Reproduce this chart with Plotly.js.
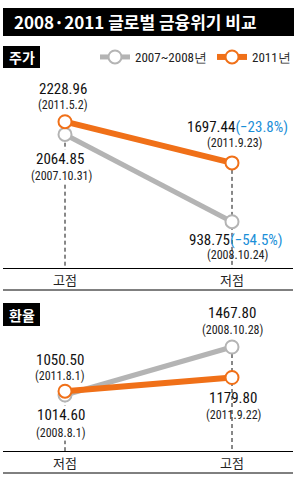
<!DOCTYPE html>
<html><head><meta charset="utf-8">
<script src="https://cdn.plot.ly/plotly-3.0.1.min.js"></script>
<style>html,body{margin:0;padding:0;background:#fff;overflow:hidden}#chart{width:297px;height:482px}</style>
</head><body><div id="chart"></div>
<script>
// ---- data ----
const seriesNames = ['2007~2008년', '2011년'];
const xIdx = [0, 1];
// 주가
const stockTicks = ['고점', '저점'];
const stock0708 = [2064.85, 938.75];
const stock11 = [2228.96, 1697.44];
const stockDates0708 = ['(2007.10.31)', '(2008.10.24)'];
const stockDates11 = ['(2011.5.2)', '(2011.9.23)'];
const stockPct0708 = ['', '−54.5%'];
const stockPct11 = ['', '−23.8%'];
// 환율
const fxTicks = ['저점', '고점'];
const fx0708 = [1014.60, 1467.80];
const fx11 = [1050.50, 1179.80];
const fxDates0708 = ['(2008.8.1)', '(2008.10.28)'];
const fxDates11 = ['(2011.8.1)', '(2011.9.22)'];

// ---- style ----
const W = 297, H = 482;
const px = v => v / W, py = v => 1 - v / H;
const GRAY = '#b4b4b4', ORANGE = '#f07018', BLUE = '#1b8fd8';
const numFont = 'Liberation Sans Narrow, Arial Narrow, Roboto Condensed, sans-serif';
const krFont = 'Noto Sans CJK KR, sans-serif';
const xRange = [-0.3713, 1.3653];
const yRangeTop = [341.4, 2896.0];
const yRangeBot = [485.9, 1911.6];

function dashTraces(a, b, xa, ya, bottom) {
  return xIdx.map(i => ({
    x: [xIdx[i], xIdx[i]], y: [Math.max(a[i], b[i]), bottom],
    xaxis: xa, yaxis: ya, mode: 'lines', showlegend: false, hoverinfo: 'skip',
    line: {color: '#111', width: 1, dash: '4px,3px'}
  }));
}
function serie(vals, name, color, width, xa, ya, show) {
  return {
    x: xIdx, y: vals, name: name, xaxis: xa, yaxis: ya, mode: 'lines+markers',
    showlegend: show, cliponaxis: false,
    line: {color: color, width: width},
    marker: {symbol: 'circle', size: 13, color: '#fff', line: {color: color, width: 2}}
  };
}
const data = [
  ...dashTraces(stock0708, stock11, 'x', 'y', yRangeTop[0]),
  serie(stock0708, seriesNames[0], GRAY, 5, 'x', 'y', true),
  serie(stock11, seriesNames[1], ORANGE, 6, 'x', 'y', true),
  ...dashTraces(fx0708, fx11, 'x2', 'y2', yRangeBot[0]),
  serie(fx0708, seriesNames[0], GRAY, 5, 'x2', 'y2', false),
  serie(fx11, seriesNames[1], ORANGE, 6, 'x2', 'y2', false)
];

const annotations = [];
function lab(xa, ya, i, v, text, size, color, xs, ys, mask) {
  annotations.push({xref: xa, yref: ya, x: xIdx[i], y: v, text: text, showarrow: false,
    xanchor: 'center', yanchor: 'middle', xshift: xs, yshift: ys,
    bgcolor: mask ? '#fff' : 'rgba(0,0,0,0)', borderpad: 0,
    font: {family: numFont, size: size, color: color}});
}
function valText(v, pct) {
  return v.toFixed(2) + (pct ? '<span style="color:' + BLUE + '">(' + pct + ')</span>' : '');
}
// top panel labels
lab('x', 'y', 0, stock11[0], valText(stock11[0], stockPct11[0]), 15, '#111', -2, 33);
lab('x', 'y', 0, stock11[0], stockDates11[0], 12, '#222', -3, 17);
lab('x', 'y', 0, stock0708[0], valText(stock0708[0], stockPct0708[0]), 15, '#111', -5, -25, true);
lab('x', 'y', 0, stock0708[0], stockDates0708[0], 12, '#222', -4, -42, true);
lab('x', 'y', 1, stock11[1], valText(stock11[1], stockPct11[1]), 15, '#111', 5, 36);
lab('x', 'y', 1, stock11[1], stockDates11[1], 12, '#222', 2, 20);
lab('x', 'y', 1, stock0708[1], valText(stock0708[1], stockPct0708[1]), 15, '#111', 4, -18);
lab('x', 'y', 1, stock0708[1], stockDates0708[1], 12, '#222', 5, -33);
// bottom panel labels
lab('x2', 'y2', 0, fx11[0], valText(fx11[0], ''), 15, '#111', -5, 31);
lab('x2', 'y2', 0, fx11[0], fxDates11[0], 12, '#222', -6, 15);
lab('x2', 'y2', 0, fx0708[0], valText(fx0708[0], ''), 15, '#111', -4, -20, true);
lab('x2', 'y2', 0, fx0708[0], fxDates0708[0], 12, '#222', -5, -38, true);
lab('x2', 'y2', 1, fx0708[1], valText(fx0708[1], ''), 15, '#111', 0, 34);
lab('x2', 'y2', 1, fx0708[1], fxDates0708[1], 12, '#222', 0, 17);
lab('x2', 'y2', 1, fx11[1], valText(fx11[1], ''), 15, '#111', 1, -20);
lab('x2', 'y2', 1, fx11[1], fxDates11[1], 12, '#222', 1, -37);
// titles / panel labels
annotations.push({xref: 'paper', yref: 'paper', x: px(12), y: py(22), xanchor: 'left', yanchor: 'middle',
  showarrow: false, text: '<b>2008·2011 글로벌 금융위기 비교</b>', font: {family: krFont, size: 17, color: '#fff'}});
annotations.push({xref: 'paper', yref: 'paper', x: px(21.5), y: py(57), xanchor: 'center', yanchor: 'middle',
  showarrow: false, text: '<b>주가</b>', font: {family: krFont, size: 14, color: '#fff'}});
annotations.push({xref: 'paper', yref: 'paper', x: px(21.5), y: py(314.5), xanchor: 'center', yanchor: 'middle',
  showarrow: false, text: '<b>환율</b>', font: {family: krFont, size: 14, color: '#fff'}});

const shapes = [
  {type: 'rect', xref: 'paper', yref: 'paper', x0: px(3), x1: px(294), y0: py(8), y1: py(36), fillcolor: '#000', line: {width: 0}},
  {type: 'rect', xref: 'paper', yref: 'paper', x0: px(3), x1: px(40), y0: py(46), y1: py(68), fillcolor: '#000', line: {width: 0}},
  {type: 'rect', xref: 'paper', yref: 'paper', x0: px(3), x1: px(40), y0: py(303), y1: py(326), fillcolor: '#000', line: {width: 0}},
  {type: 'line', xref: 'paper', yref: 'paper', x0: px(3), x1: px(293), y0: py(290), y1: py(290), line: {color: '#000', width: 1}},
  {type: 'line', xref: 'paper', yref: 'paper', x0: px(3), x1: px(293), y0: py(473), y1: py(473), line: {color: '#000', width: 1}}
];

const xCommon = {range: xRange, domain: [px(3), px(293)], tickvals: xIdx, showline: true, linecolor: '#000', linewidth: 1,
  ticks: '', showgrid: false, zeroline: false, fixedrange: true,
  tickfont: {family: krFont, size: 13, color: '#222'}};
const layout = {
  width: W, height: H, margin: {l: 0, r: 0, t: 0, b: 0},
  paper_bgcolor: '#fff', plot_bgcolor: 'rgba(0,0,0,0)',
  showlegend: true,
  legend: {orientation: 'h', x: px(95), xanchor: 'left', y: py(42), yanchor: 'top',
    font: {family: numFont, size: 13, color: '#222'}, bgcolor: 'rgba(0,0,0,0)', itemwidth: 30},
  xaxis: Object.assign({}, xCommon, {anchor: 'y', ticktext: stockTicks}),
  yaxis: {domain: [py(268), py(70)], range: yRangeTop, visible: false, fixedrange: true},
  xaxis2: Object.assign({}, xCommon, {anchor: 'y2', ticktext: fxTicks}),
  yaxis2: {domain: [py(451), py(300)], range: yRangeBot, visible: false, fixedrange: true},
  annotations: annotations, shapes: shapes
};
Plotly.newPlot('chart', data, layout, {displayModeBar: false, staticPlot: true});
</script></body></html>
